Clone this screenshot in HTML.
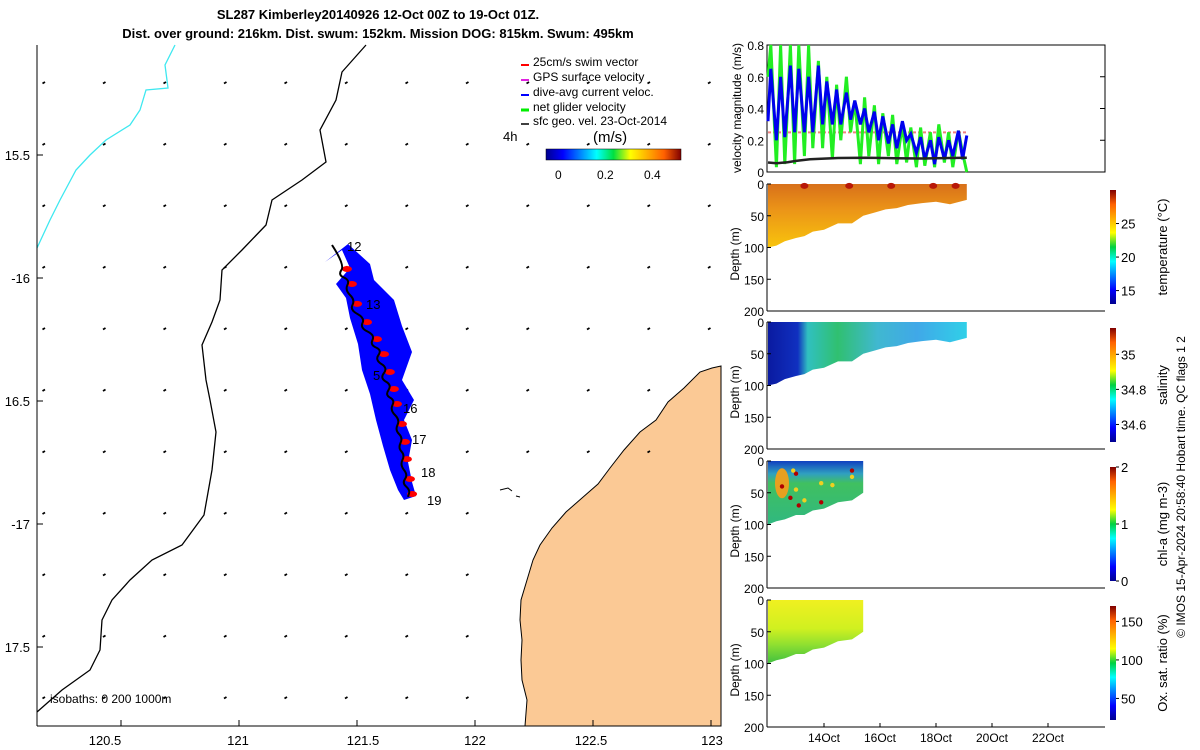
<!DOCTYPE html>
<html><head><meta charset="utf-8"><style>
body{margin:0;background:#fff}
svg{display:block;font-family:"Liberation Sans","DejaVu Sans",sans-serif}
</style></head><body>
<svg id="fig" width="1200" height="750" viewBox="0 0 1200 750" xmlns="http://www.w3.org/2000/svg">
<defs>
<linearGradient id="jet" x1="0" x2="1" y1="0" y2="0">
<stop offset="0" stop-color="#00008f"/><stop offset="0.125" stop-color="#0000ff"/><stop offset="0.375" stop-color="#00ffff"/><stop offset="0.5" stop-color="#00e040"/><stop offset="0.625" stop-color="#ffff00"/><stop offset="0.875" stop-color="#ff6000"/><stop offset="1" stop-color="#800000"/></linearGradient>
<linearGradient id="jetv" x1="0" x2="0" y1="1" y2="0">
<stop offset="0" stop-color="#00008f"/><stop offset="0.125" stop-color="#0000ff"/><stop offset="0.375" stop-color="#00ffff"/><stop offset="0.5" stop-color="#00d040"/><stop offset="0.625" stop-color="#ffff00"/><stop offset="0.875" stop-color="#ff6000"/><stop offset="1" stop-color="#800000"/></linearGradient>
<linearGradient id="tempg" x1="0" x2="0" y1="0" y2="1"><stop offset="0" stop-color="#d8701a"/><stop offset="0.4" stop-color="#eb9418"/><stop offset="1" stop-color="#f8c40c"/></linearGradient>
<linearGradient id="salg" x1="0" x2="1" y1="0" y2="0"><stop offset="0" stop-color="#0a1aa0"/><stop offset="0.15" stop-color="#1030c0"/><stop offset="0.2" stop-color="#30c0c0"/><stop offset="0.35" stop-color="#30c070"/><stop offset="0.55" stop-color="#40b8d0"/><stop offset="0.75" stop-color="#40a8e8"/><stop offset="1" stop-color="#30d0e8"/></linearGradient>
<linearGradient id="chlg" x1="0" x2="0" y1="0" y2="1"><stop offset="0" stop-color="#1040c0"/><stop offset="0.2" stop-color="#30a0c0"/><stop offset="0.35" stop-color="#40c060"/><stop offset="1" stop-color="#30b880"/></linearGradient>
<linearGradient id="oxg" x1="0" x2="0" y1="0" y2="1"><stop offset="0" stop-color="#f0f020"/><stop offset="0.45" stop-color="#d0f020"/><stop offset="0.7" stop-color="#90e030"/><stop offset="1" stop-color="#40c040"/></linearGradient>
</defs>

<text x="378" y="19" font-size="13" font-weight="bold" text-anchor="middle">SL287 Kimberley20140926 12-Oct 00Z to 19-Oct 01Z.</text>
<text x="378" y="38" font-size="13" font-weight="bold" text-anchor="middle">Dist. over ground: 216km. Dist. swum: 152km. Mission DOG: 815km. Swum: 495km</text>

<g id="map">
<polygon fill="#fbc995" stroke="#000" stroke-width="1" points="525,726 527,700 522,680 521,660 522,640 520,620 521,600 527,580 533,560 540,545 552,528 566,512 582,498 598,484 610,468 624,450 640,432 656,420 668,402 684,388 700,372 712,368 721,366 721,726"/>
<path d="M500 490 l8 -2 l4 3 M516 496 l4 1" stroke="#000" fill="none"/>
<polyline fill="none" stroke="#3ee8f0" stroke-width="1.3" points="175,45 165,65 168,88 146,90 140,110 130,125 106,140 90,155 76,170 60,200 50,220 37,248"/>
<polyline fill="none" stroke="#000" stroke-width="1.3" points="366,45 342,72 336,100 320,130 326,162 302,180 272,200 266,225 242,250 222,270 220,300 212,322 202,345 206,380 210,400 216,432 212,470 204,515 182,545 152,560 130,580 112,600 102,620 100,650 90,670 62,690 37,712"/>
<g id="vecs"></g>
<polygon fill="#0000ff" points="325,262 342,250 350,268 336,284 346,298 350,318 358,344 362,370 370,394 376,420 383,446 390,470 398,490 404,500 416,496 412,482 408,462 412,440 404,420 414,400 402,380 412,352 402,326 394,300 374,280 370,264 348,244"/>
<g id="track"></g>
<text x="347" y="251" font-size="13">12</text>
<text x="366" y="309" font-size="13">13</text>
<text x="373" y="380" font-size="13">5</text>
<text x="403" y="413" font-size="13">16</text>
<text x="412" y="444" font-size="13">17</text>
<text x="421" y="477" font-size="13">18</text>
<text x="427" y="505" font-size="13">19</text>
<line x1="37" y1="45" x2="37" y2="726" stroke="#000"/>
<line x1="37" y1="726" x2="721" y2="726" stroke="#000"/>
<g id="mapticks" font-size="13"></g>
<text x="50" y="703" font-size="12">isobaths: 0   200   1000m</text>
<g font-size="12">
<line x1="521" y1="65" x2="529" y2="65" stroke="#f00" stroke-width="2"/><text x="533" y="66">25cm/s swim vector</text>
<line x1="521" y1="80" x2="529" y2="80" stroke="#e020e0" stroke-width="2"/><text x="533" y="81">GPS surface velocity</text>
<line x1="521" y1="95" x2="529" y2="95" stroke="#00f" stroke-width="2"/><text x="533" y="96">dive-avg current veloc.</text>
<line x1="521" y1="110" x2="529" y2="110" stroke="#0e0" stroke-width="3"/><text x="533" y="111">net glider velocity</text>
<line x1="521" y1="124" x2="529" y2="124" stroke="#000" stroke-width="1.5"/><text x="533" y="125">sfc geo. vel. 23-Oct-2014</text>
<text x="503" y="141" font-size="13">4h</text>
<text x="593" y="142" font-size="15">(m/s)</text>
<rect x="546" y="149" width="135" height="11" fill="url(#jet)" stroke="#000" stroke-width="0.5"/>
<text x="555" y="179">0</text><text x="597" y="179">0.2</text><text x="644" y="179">0.4</text>
</g>
</g>

<g id="right"></g>
</svg>
<script>
const trackLon=[121.394,121.449,121.419,121.470,121.449,121.492,121.470,121.534,121.513,121.576,121.555,121.606,121.576,121.631,121.597,121.648,121.619,121.661,121.640,121.682,121.661,121.695,121.674,121.703,121.682,121.716,121.691,121.725,121.716];
const trackLat=[-15.866,-15.947,-15.988,-16.008,-16.049,-16.089,-16.130,-16.163,-16.203,-16.232,-16.272,-16.293,-16.333,-16.366,-16.407,-16.435,-16.476,-16.496,-16.537,-16.577,-16.618,-16.650,-16.691,-16.720,-16.760,-16.801,-16.833,-16.862,-16.890];
const lonTicks=[120.5,121,121.5,122,122.5,123];
const lonLabels=["120.5","121","121.5","122","122.5","123"];
const latTicks=[-15.5,-16,-16.5,-17,-17.5];
const latLabels=["15.5","-16","16.5","-17","17.5"];
const velTime=[12.0,12.1,12.3,12.45,12.6,12.8,12.95,13.1,13.3,13.45,13.6,13.8,13.95,14.1,14.3,14.45,14.6,14.8,14.95,15.1,15.3,15.45,15.6,15.8,15.95,16.1,16.3,16.45,16.6,16.8,16.95,17.1,17.3,17.45,17.6,17.8,17.95,18.1,18.3,18.45,18.6,18.8,18.95,19.1];
const blueVel=[0.32,0.65,0.2,0.6,0.22,0.67,0.25,0.65,0.25,0.6,0.25,0.67,0.3,0.57,0.3,0.52,0.3,0.5,0.33,0.45,0.3,0.4,0.25,0.38,0.2,0.35,0.18,0.3,0.15,0.32,0.2,0.24,0.12,0.22,0.08,0.2,0.05,0.22,0.08,0.2,0.1,0.26,0.08,0.23];
const greenVel=[0.6,0.8,0.03,0.8,0.05,0.8,0.05,0.8,0.1,0.82,0.15,0.7,0.15,0.6,0.08,0.55,0.2,0.6,0.25,0.45,0.05,0.47,0.1,0.42,0.05,0.37,0.1,0.36,0.05,0.3,0.06,0.28,0.03,0.28,0.04,0.25,0.03,0.3,0.06,0.25,0.03,0.26,0.12,0.0];
const geoTime=[12.0,12.3,12.7,13.0,13.5,14.5,15.5,16.5,17.5,18.5,19.1];
const geoVel=[0.06,0.055,0.062,0.07,0.08,0.088,0.09,0.087,0.085,0.088,0.09];
const swimVel=0.25;
const secTime=[12.0,12.3,12.6,13.0,13.3,13.6,14.0,14.5,15.0,15.4,15.8,16.2,16.6,17.0,17.5,18.0,18.5,19.1];
const secDepth=[100,97,90,85,82,75,72,62,62,50,45,40,38,33,30,28,32,25];
const chlTime=[12.0,12.3,12.6,13.0,13.3,13.6,14.0,14.5,15.0,15.4];
const chlDepth=[100,95,92,85,85,78,75,65,62,50];
const vTicks=[0,0.2,0.4,0.6,0.8];
const dTicks=[0,50,100,150,200];
const dateTicks=[14,16,18,20,22];
const dateLabels=["14Oct","16Oct","18Oct","20Oct","22Oct"];
const tempTicks=[25,20,15], tempLabels=["25","20","15"];
const salTicks=[35,34.8,34.6], salLabels=["35","34.8","34.6"];
const chlTicks=[2,1,0], chlLabels=["2","1","0"];
const oxTicks=[150,100,50], oxLabels=["150","100","50"];

const NS="http://www.w3.org/2000/svg";
function mk(tag,attrs,parent){const e=document.createElementNS(NS,tag);for(const k in attrs)e.setAttribute(k,attrs[k]);parent.appendChild(e);return e;}
const mx=lon=>239+(lon-121)*236;
const my=lat=>278+(-16-lat)*246;

const vg=document.getElementById('vecs');
for(let j=0;j<11;j++){for(let i=0;i<12;i++){
 const x=45+i*60.5, y=82+j*61.5;
 if(y>360 && x>700-(y-360)*0.5) continue;
 if(y>480 && x>520) continue;
 const l=mk('line',{x1:x,y1:y,x2:x-2.5,y2:y+1.5,stroke:'#000','stroke-width':1.8},vg);
 
 
}}
const tg=document.getElementById('track');
trackLon.forEach((v,i)=>{ if(i%2===1){
 const r=mk('ellipse',{cx:mx(v)+2,cy:my(trackLat[i])+4,rx:5,ry:3,fill:'#f00'},tg);
 
 
}});
let pd='M'+mx(trackLon[0]).toFixed(1)+' '+my(trackLat[0]).toFixed(1);
for(let i=1;i<trackLon.length-1;i++){
 const x=mx(trackLon[i]),y=my(trackLat[i]),nx=(x+mx(trackLon[i+1]))/2,ny=(y+my(trackLat[i+1]))/2;
 pd+=' Q'+x.toFixed(1)+' '+y.toFixed(1)+' '+nx.toFixed(1)+' '+ny.toFixed(1);
}
pd+=' L'+mx(trackLon[trackLon.length-1]).toFixed(1)+' '+my(trackLat[trackLat.length-1]).toFixed(1);
const tl=mk('path',{d:pd,fill:'none',stroke:'#000','stroke-width':2,'stroke-linejoin':'round'},tg);


const mt=document.getElementById('mapticks');
const lonLabX=[105,238,363,475,591,712];
lonTicks.forEach((v,i)=>{
 mk('line',{x1:mx(v),y1:726,x2:mx(v),y2:720,stroke:'#000'},mt);
 const t=mk('text',{x:lonLabX[i],y:745,'text-anchor':'middle'},mt);t.textContent=lonLabels[i];
 
 
});
latTicks.forEach((v,i)=>{
 mk('line',{x1:37,y1:my(v),x2:43,y2:my(v),stroke:'#000'},mt);
 const t=mk('text',{x:30,y:my(v)+5,'text-anchor':'end'},mt);t.textContent=latLabels[i];
 
 
});

const R=document.getElementById('right');
const X0=767,X1=1105;
const tx=t=>768+(t-12)*28;
const vy=v=>172-v/0.8*127;
mk('rect',{x:X0,y:45,width:X1-X0,height:127,fill:'none',stroke:'#000'},R);
const pts=(ts,vs,f)=>ts.map((t,i)=>tx(t).toFixed(1)+','+f(Math.min(vs[i],0.8)).toFixed(1)).join(' ');
const sw=mk('line',{x1:tx(12),x2:tx(19.1),y1:vy(swimVel),y2:vy(swimVel),stroke:'#f08080','stroke-width':2,'stroke-dasharray':'3,2'},R);


const gl=mk('polyline',{points:pts(velTime,greenVel,vy),fill:'none',stroke:'#22ee22','stroke-width':3},R);


const bl=mk('polyline',{points:pts(velTime,blueVel,vy),fill:'none',stroke:'#0000ee','stroke-width':3},R);


const kl=mk('polyline',{points:pts(geoTime,geoVel,vy),fill:'none',stroke:'#222','stroke-width':2.5},R);


vTicks.forEach(v=>{
 mk('line',{x1:X1,x2:X1-5,y1:vy(v),y2:vy(v),stroke:'#000'},R);
 const t=mk('text',{x:764,y:vy(v)+5,'text-anchor':'end','font-size':12},R);t.textContent=String(v);
 
 
});
const vt=mk('text',{x:0,y:0,'font-size':12,'text-anchor':'middle',transform:'translate(741,108) rotate(-90)'},R);vt.textContent='velocity magnitude (m/s)';



const panels=[
 {top:184,fill:'url(#tempg)',ts:secTime,ds:secDepth,ticks:tempTicks,labels:tempLabels,lo:13,hi:30,title:'temperature (°C)',name:'temperature'},
 {top:322,fill:'url(#salg)',ts:secTime,ds:secDepth,ticks:salTicks,labels:salLabels,lo:34.5,hi:35.15,title:'salinity',name:'salinity'},
 {top:461,fill:'url(#chlg)',ts:chlTime,ds:chlDepth,ticks:chlTicks,labels:chlLabels,lo:0,hi:2,title:'chl-a (mg m-3)',name:'chl-a'},
 {top:600,fill:'url(#oxg)',ts:chlTime,ds:chlDepth,ticks:oxTicks,labels:oxLabels,lo:22,hi:170,title:'Ox. sat. ratio (%)',name:'oxygen'}
];
panels.forEach((p,k)=>{
 const dy=dd=>p.top+dd/200*127;
 const poly=[tx(p.ts[0])+','+dy(0)].concat([tx(p.ts[p.ts.length-1])+','+dy(0)]);
 for(let i=p.ts.length-1;i>=0;i--) poly.push(tx(p.ts[i]).toFixed(1)+','+dy(p.ds[i]).toFixed(1));
 const s=mk('polygon',{points:poly.join(' '),fill:p.fill},R);
 
 
 if(k===0){ [13.3,14.9,16.4,17.9,18.7].forEach(t=>mk('ellipse',{cx:tx(t),cy:dy(3),rx:4,ry:3,fill:'#b81808'},R)); }
 if(k===2){ mk('ellipse',{cx:tx(12.5),cy:dy(35),rx:7,ry:15,fill:'#e8a020'},R);
   [[12.5,40],[12.8,58],[13.1,70],[13.9,65],[15.0,15],[13.0,20]].forEach(q=>mk('circle',{cx:tx(q[0]),cy:dy(q[1]),r:2.2,fill:'#b00000'},R));
   [[13.9,35],[14.3,38],[13.0,45],[13.3,62],[15.0,25],[12.9,15]].forEach(q=>mk('circle',{cx:tx(q[0]),cy:dy(q[1]),r:2.2,fill:'#f0d020'},R)); }
 mk('line',{x1:X0,y1:p.top,x2:X0,y2:p.top+127,stroke:'#000'},R);
 mk('line',{x1:X0,y1:p.top+127,x2:X1,y2:p.top+127,stroke:'#000'},R);
 dTicks.forEach(dd=>{
  mk('line',{x1:X0,x2:X0+4,y1:dy(dd),y2:dy(dd),stroke:'#000'},R);
  const t=mk('text',{x:764,y:dy(dd)+5,'text-anchor':'end','font-size':12},R);t.textContent=String(dd);
  
  
 });
 const at=mk('text',{x:0,y:0,'font-size':12,'text-anchor':'middle',transform:'translate(739,'+(p.top+70)+') rotate(-90)'},R);at.textContent='Depth (m)';
 
 
 const cTop=p.top+6, cH=114;
 const cb=mk('rect',{x:1110,y:cTop,width:6,height:cH,fill:'url(#jetv)'},R);
 
 
 const cy=v=>cTop+cH*(p.hi-v)/(p.hi-p.lo);
 p.ticks.forEach((v,i)=>{
  mk('line',{x1:1116,x2:1119,y1:cy(v),y2:cy(v),stroke:'#000'},R);
  const t=mk('text',{x:1121,y:cy(v)+5,'font-size':13},R);t.textContent=p.labels[i];
  
  
 });
 const ct=mk('text',{x:0,y:0,'font-size':13,'text-anchor':'middle',transform:'translate(1167,'+(cTop+57)+') rotate(-90)'},R);ct.textContent=p.title;
 
 
});
dateTicks.forEach((dd,i)=>{
 mk('line',{x1:tx(dd),x2:tx(dd),y1:727,y2:723,stroke:'#000'},R);
 const t=mk('text',{x:tx(dd),y:742,'text-anchor':'middle','font-size':12},R);t.textContent=dateLabels[i];
 
 
});
const cr=mk('text',{x:0,y:0,'font-size':12,'text-anchor':'middle',transform:'translate(1185,487) rotate(-90)'},R);cr.textContent='© IMOS 15-Apr-2024 20:58:40 Hobart time. QC flags 1  2';


</script>
</body></html>
